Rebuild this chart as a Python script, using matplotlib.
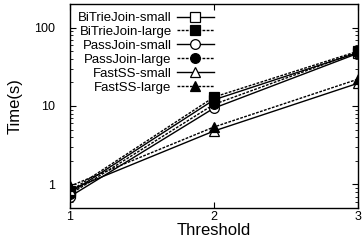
import matplotlib
matplotlib.use("Agg")
import matplotlib.pyplot as plt
from matplotlib.ticker import LogLocator, NullFormatter, FixedLocator

plt.rcParams['font.family'] = ['Liberation Sans', 'DejaVu Sans']

thresholds = [1, 2, 3]
series_names = ["BiTrieJoin-small", "BiTrieJoin-large", "PassJoin-small",
                "PassJoin-large", "FastSS-small", "FastSS-large"]
bitrie_small = [0.78, 12.0, 48]
bitrie_large = [0.82, 13.0, 50]
pass_small = [0.70, 9.4, 47]
pass_large = [0.75, 10.5, 49]
fastss_small = [0.85, 4.8, 19.5]
fastss_large = [0.95, 5.4, 22]
values = [bitrie_small, bitrie_large, pass_small, pass_large, fastss_small, fastss_large]
markers = ['s', 's', 'o', 'o', '^', '^']
fills = ['none', 'black', 'none', 'black', 'none', 'black']
styles = ['-', (0, (2, 1)), '-', (0, (2, 1)), '-', (0, (2, 1))]

fig = plt.figure(figsize=(3.63, 2.52), dpi=100)
ax = fig.add_axes([70/363, 1-208/252, (358-70)/363, (208-4)/252])

for name, v, m, f, ls in zip(series_names, values, markers, fills, styles):
    ax.plot(thresholds, v, color='black', linestyle=ls, linewidth=1.0,
            marker=m, markersize=7, markerfacecolor=f if f != 'none' else 'white',
            markeredgecolor='black', markeredgewidth=0.9, label=name)

ax.set_yscale('log')
ax.set_ylim(0.5, 200)
ax.set_xlim(1, 3)
ax.xaxis.set_major_locator(FixedLocator([1, 2, 3]))
ax.set_yticks([1, 10, 100])
ax.set_yticklabels(['1', '10', '100'])
ax.yaxis.set_minor_locator(LogLocator(base=10, subs=range(2, 10)))
ax.yaxis.set_minor_formatter(NullFormatter())
ax.tick_params(which='both', direction='in', top=True, right=True, labelsize=9)
ax.tick_params(axis='x', which='major', length=4, pad=2)
ax.tick_params(axis='y', which='major', length=4, pad=11)
ax.tick_params(which='minor', length=2)
ax.set_xlabel('Threshold', fontsize=12, labelpad=0)
ax.set_ylabel('Time(s)', fontsize=12, labelpad=8)
for s in ax.spines.values():
    s.set_linewidth(1.0)

leg = ax.legend(loc='upper left', frameon=False, markerfirst=False, fontsize=9.5,
                handlelength=2.8, labelspacing=0.13, borderaxespad=0.2,
                handletextpad=0.4, bbox_to_anchor=(0.0, 1.0))
for t in leg.get_texts():
    t.set_ha('right')
leg._legend_box.align = 'right'

fig.savefig('out.png', dpi=100)
